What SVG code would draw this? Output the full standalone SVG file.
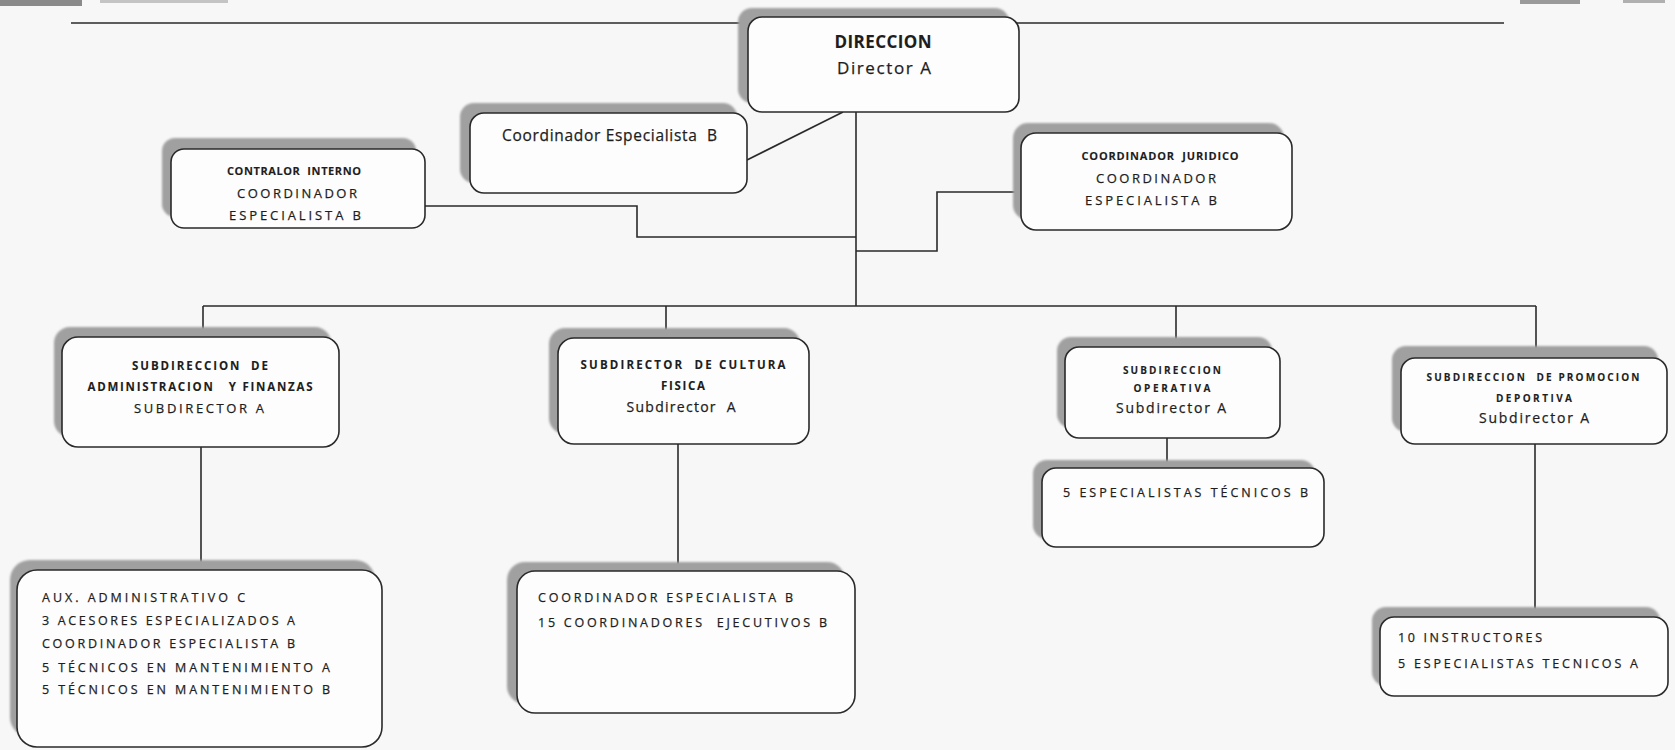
<svg xmlns="http://www.w3.org/2000/svg" width="1675" height="750" viewBox="0 0 1675 750">
<style>
.bg{fill:#f7f7f7}
.box{fill:#fdfdfd;stroke:#2a2a2a;stroke-width:1.6}
.sh{fill:#a0a0a0}
.ln{fill:none;stroke:#2a2a2a;stroke-width:1.6}
text{font-family:"Open Sans","Liberation Sans",sans-serif;fill:#1e1e1e;stroke:#1e1e1e;stroke-width:0.25}
.b{font-weight:700;stroke-width:0.1}
.c{text-anchor:middle}
</style>
<defs>
<filter id="blur" x="-10%" y="-10%" width="120%" height="120%"><feGaussianBlur stdDeviation="1.2"/></filter>
</defs>
<rect class="bg" x="0" y="0" width="1675" height="750"/>
<g id="header">
<rect x="0" y="0" width="82" height="6" fill="#8a8a8a"/>
<rect x="100" y="0" width="128" height="3" fill="#c4c4c4"/>
<rect x="1520" y="0" width="60" height="4" fill="#9a9a9a"/>
<rect x="1623" y="0" width="42" height="3" fill="#b0b0b0"/>
<line class="ln" x1="71" y1="23" x2="1504" y2="23"/>
</g>
<g id="connectors">
<path class="ln" d="M856 112 V306"/>
<path class="ln" d="M203 306 H1536"/>
<path class="ln" d="M203 306 V337"/>
<path class="ln" d="M666 306 V338"/>
<path class="ln" d="M1176 306 V347"/>
<path class="ln" d="M1536 306 V358"/>
<path class="ln" d="M425 206 H637 V237 H856"/>
<path class="ln" d="M1021 192 H937 V251 H856"/>
<path class="ln" d="M747 160 L843 112"/>
<path class="ln" d="M201 447 V570"/>
<path class="ln" d="M678 444 V571"/>
<path class="ln" d="M1167 438 V468"/>
<path class="ln" d="M1535 444 V617"/>
</g>
<g id="direccion">
<rect class="sh" filter="url(#blur)" x="738" y="8" width="271" height="95" rx="14"/>
<rect class="box" x="748" y="17" width="271" height="95" rx="14"/>
<text class="b c" x="883" y="48" font-size="17" textLength="97">DIRECCION</text>
<text class="c" x="884" y="74" font-size="17" textLength="94">Director A</text>
</g>
<g id="coordinador-especialista">
<rect class="sh" filter="url(#blur)" x="460" y="103" width="277" height="80" rx="14"/>
<rect class="box" x="470" y="113" width="277" height="80" rx="14"/>
<text x="502" y="141" font-size="15.5" textLength="215" xml:space="preserve">Coordinador Especialista  B</text>
</g>
<g id="contralor">
<rect class="sh" filter="url(#blur)" x="162" y="138" width="254" height="79" rx="13"/>
<rect class="box" x="171" y="149" width="254" height="79" rx="13"/>
<text class="b c" x="294" y="175" font-size="11" textLength="134" xml:space="preserve">CONTRALOR  INTERNO</text>
<text class="c" x="297" y="198" font-size="13" textLength="120">COORDINADOR</text>
<text class="c" x="295" y="220" font-size="13" textLength="132">ESPECIALISTA B</text>
</g>
<g id="juridico">
<rect class="sh" filter="url(#blur)" x="1013" y="123" width="271" height="97" rx="15"/>
<rect class="box" x="1021" y="133" width="271" height="97" rx="15"/>
<text class="b c" x="1160" y="160" font-size="11" textLength="157" xml:space="preserve">COORDINADOR  JURIDICO</text>
<text class="c" x="1156" y="183" font-size="13" textLength="120">COORDINADOR</text>
<text class="c" x="1151" y="205" font-size="13" textLength="132">ESPECIALISTA B</text>
</g>
<g id="sub-administracion">
<rect class="sh" filter="url(#blur)" x="54" y="327" width="277" height="110" rx="16"/>
<rect class="box" x="62" y="337" width="277" height="110" rx="16"/>
<text class="b c" x="200" y="370" font-size="11.5" textLength="136" xml:space="preserve">SUBDIRECCION  DE</text>
<text class="b c" x="200" y="391" font-size="11.5" textLength="225" xml:space="preserve">ADMINISTRACION   Y FINANZAS</text>
<text class="c" x="199" y="413" font-size="13" textLength="130">SUBDIRECTOR A</text>
</g>
<g id="sub-cultura">
<rect class="sh" filter="url(#blur)" x="549" y="328" width="251" height="106" rx="16"/>
<rect class="box" x="558" y="338" width="251" height="106" rx="16"/>
<text class="b c" x="683" y="369" font-size="11.5" textLength="205" xml:space="preserve">SUBDIRECTOR  DE CULTURA</text>
<text class="b c" x="683" y="390" font-size="11.5" textLength="44">FISICA</text>
<text class="c" x="681" y="412" font-size="14" textLength="109" xml:space="preserve">Subdirector  A</text>
</g>
<g id="sub-operativa">
<rect class="sh" filter="url(#blur)" x="1057" y="337" width="215" height="91" rx="14"/>
<rect class="box" x="1065" y="347" width="215" height="91" rx="14"/>
<text class="b c" x="1172" y="374" font-size="10" textLength="98">SUBDIRECCION</text>
<text class="b c" x="1172" y="392" font-size="10" textLength="77">OPERATIVA</text>
<text class="c" x="1171" y="413" font-size="14" textLength="110">Subdirector A</text>
</g>
<g id="sub-promocion">
<rect class="sh" filter="url(#blur)" x="1392" y="346" width="266" height="86" rx="14"/>
<rect class="box" x="1401" y="358" width="266" height="86" rx="14"/>
<text class="b c" x="1533" y="381" font-size="10" textLength="213" xml:space="preserve">SUBDIRECCION  DE PROMOCION</text>
<text class="b c" x="1534" y="402" font-size="10" textLength="76">DEPORTIVA</text>
<text class="c" x="1534" y="423" font-size="14" textLength="110">Subdirector A</text>
</g>
<g id="admin-personal">
<rect class="sh" filter="url(#blur)" x="10" y="560" width="365" height="177" rx="20"/>
<rect class="box" x="17" y="570" width="365" height="177" rx="20"/>
<text x="42" y="602" font-size="12.5" textLength="203">AUX. ADMINISTRATIVO C</text>
<text x="42" y="625" font-size="12.5" textLength="253">3 ACESORES ESPECIALIZADOS A</text>
<text x="42" y="648" font-size="12.5" textLength="253">COORDINADOR ESPECIALISTA B</text>
<text x="42" y="672" font-size="12.5" textLength="288">5 TÉCNICOS EN MANTENIMIENTO A</text>
<text x="42" y="694" font-size="12.5" textLength="288">5 TÉCNICOS EN MANTENIMIENTO B</text>
</g>
<g id="cultura-personal">
<rect class="sh" filter="url(#blur)" x="507" y="562" width="338" height="142" rx="18"/>
<rect class="box" x="517" y="571" width="338" height="142" rx="18"/>
<text x="538" y="602" font-size="12.5" textLength="255">COORDINADOR ESPECIALISTA B</text>
<text x="538" y="627" font-size="12.5" textLength="289" xml:space="preserve">15 COORDINADORES  EJECUTIVOS B</text>
</g>
<g id="operativa-personal">
<rect class="sh" filter="url(#blur)" x="1033" y="460" width="282" height="79" rx="14"/>
<rect class="box" x="1042" y="468" width="282" height="79" rx="14"/>
<text x="1063" y="497" font-size="12.5" textLength="245">5 ESPECIALISTAS TÉCNICOS B</text>
</g>
<g id="promocion-personal">
<rect class="sh" filter="url(#blur)" x="1372" y="607" width="288" height="79" rx="14"/>
<rect class="box" x="1380" y="617" width="288" height="79" rx="14"/>
<text x="1398" y="642" font-size="12.5" textLength="144">10 INSTRUCTORES</text>
<text x="1398" y="668" font-size="12.5" textLength="240">5 ESPECIALISTAS TECNICOS A</text>
</g>
</svg>
